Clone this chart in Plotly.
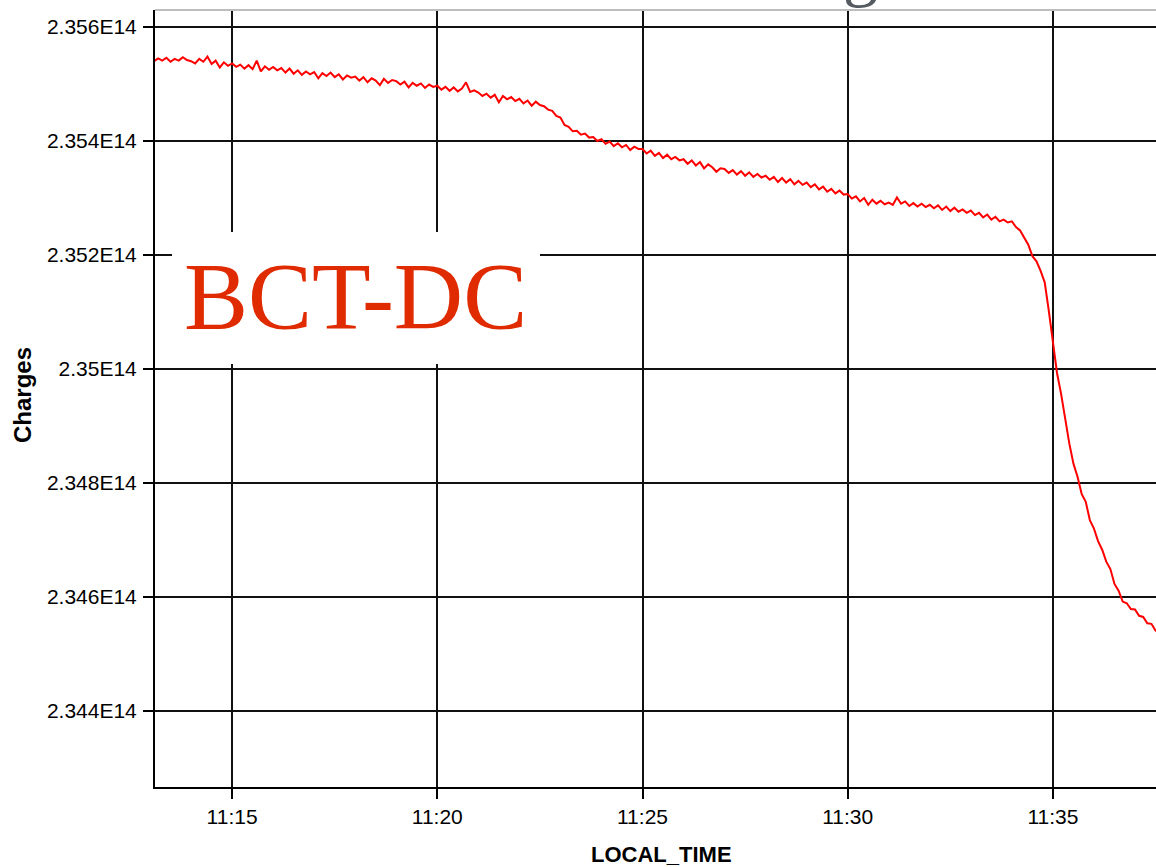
import pandas as pd
import plotly.graph_objects as go

# Beam charge (units of 1E14), one row per minute from 11:13, sampled every 6 s
charges_e14 = [
    2.35543, 2.35540, 2.35545, 2.35541, 2.35546, 2.35539, 2.35544, 2.35541, 2.35547, 2.35542,  # 11:13
    2.35540, 2.35536, 2.35544, 2.35539, 2.35548, 2.35535, 2.35541, 2.35529, 2.35538, 2.35532,  # 11:14
    2.35536, 2.35530, 2.35534, 2.35527, 2.35533, 2.35526, 2.35541, 2.35522, 2.35531, 2.35525,  # 11:15
    2.35530, 2.35524, 2.35528, 2.35520, 2.35527, 2.35518, 2.35524, 2.35516, 2.35522, 2.35517,  # 11:16
    2.35521, 2.35510, 2.35519, 2.35514, 2.35520, 2.35512, 2.35517, 2.35508, 2.35515, 2.35511,  # 11:17
    2.35513, 2.35506, 2.35512, 2.35503, 2.35510, 2.35506, 2.35498, 2.35509, 2.35502, 2.35507,  # 11:18
    2.35505, 2.35499, 2.35504, 2.35494, 2.35502, 2.35497, 2.35501, 2.35493, 2.35499, 2.35495,  # 11:19
    2.35497, 2.35490, 2.35495, 2.35488, 2.35494, 2.35487, 2.35492, 2.35503, 2.35486, 2.35489,  # 11:20
    2.35485, 2.35479, 2.35483, 2.35476, 2.35481, 2.35468, 2.35479, 2.35473, 2.35477, 2.35470,  # 11:21
    2.35474, 2.35466, 2.35471, 2.35462, 2.35469, 2.35463, 2.35461, 2.35455, 2.35453, 2.35444,  # 11:22
    2.35441, 2.35428, 2.35425, 2.35417, 2.35418, 2.35411, 2.35413, 2.35406, 2.35407, 2.35400,  # 11:23
    2.35403, 2.35395, 2.35399, 2.35391, 2.35396, 2.35389, 2.35393, 2.35384, 2.35390, 2.35386,  # 11:24
    2.35386, 2.35378, 2.35383, 2.35374, 2.35379, 2.35370, 2.35376, 2.35368, 2.35372, 2.35366,  # 11:25
    2.35368, 2.35360, 2.35366, 2.35357, 2.35363, 2.35352, 2.35359, 2.35354, 2.35346, 2.35352,  # 11:26
    2.35351, 2.35344, 2.35349, 2.35341, 2.35347, 2.35339, 2.35345, 2.35337, 2.35342, 2.35336,  # 11:27
    2.35339, 2.35332, 2.35337, 2.35328, 2.35335, 2.35327, 2.35333, 2.35324, 2.35330, 2.35323,  # 11:28
    2.35327, 2.35319, 2.35324, 2.35315, 2.35320, 2.35311, 2.35316, 2.35308, 2.35313, 2.35306,  # 11:29
    2.35307, 2.35299, 2.35303, 2.35294, 2.35300, 2.35288, 2.35297, 2.35290, 2.35295, 2.35289,  # 11:30
    2.35292, 2.35288, 2.35301, 2.35290, 2.35294, 2.35286, 2.35291, 2.35285, 2.35290, 2.35284,  # 11:31
    2.35288, 2.35282, 2.35287, 2.35279, 2.35285, 2.35277, 2.35283, 2.35276, 2.35280, 2.35274,  # 11:32
    2.35278, 2.35270, 2.35274, 2.35266, 2.35271, 2.35262, 2.35267, 2.35259, 2.35262, 2.35257,  # 11:33
    2.35259, 2.35249, 2.35243, 2.35231, 2.35218, 2.35198, 2.35189, 2.35172, 2.35152, 2.35102,  # 11:34
    2.35051, 2.34993, 2.34956, 2.34912, 2.34869, 2.34834, 2.34811, 2.34781, 2.34767, 2.34735,  # 11:35
    2.34720, 2.34698, 2.34683, 2.34662, 2.34649, 2.34623, 2.34611, 2.34592, 2.34589, 2.34579,  # 11:36
    2.34578, 2.34567, 2.34565, 2.34554, 2.34553, 2.34541, 2.34540,                             # 11:37
]
charges = [v * 1e14 for v in charges_e14]
times = pd.date_range("2012-01-01 11:13:00", periods=len(charges), freq="6s")

y_tick_values = [2.344e14, 2.346e14, 2.348e14, 2.350e14, 2.352e14, 2.354e14, 2.356e14]
y_tick_labels = ["2.344E14", "2.346E14", "2.348E14", "2.35E14", "2.352E14", "2.354E14", "2.356E14"]
x_tick_values = ["2012-01-01 11:15:00", "2012-01-01 11:20:00", "2012-01-01 11:25:00",
                 "2012-01-01 11:30:00", "2012-01-01 11:35:00"]
x_tick_labels = ["11:15", "11:20", "11:25", "11:30", "11:35"]

W, H = 1156, 867
L, R, T, B = 155, 0, 10, 80
pw, ph = W - L - R, H - T - B

def px_x(x):
    return (x - L) / pw

def px_y(y):
    return (H - B - y) / ph

fig = go.Figure()
fig.add_trace(go.Scatter(
    x=times, y=charges, mode="lines",
    line=dict(color="#ff0000", width=2),
    showlegend=False, hoverinfo="skip",
))

tick_font = dict(family="Liberation Sans, Arial, sans-serif", size=21, color="#000000")
fig.update_layout(
    width=W, height=H,
    margin=dict(l=L, r=R, t=T, b=B, pad=0),
    paper_bgcolor="white", plot_bgcolor="white",
    xaxis=dict(
        range=["2012-01-01 11:13:07.3", "2012-01-01 11:37:30.7"],
        tickvals=x_tick_values, ticktext=x_tick_labels,
        showgrid=True, gridcolor="#111111", gridwidth=2,
        showline=True, linecolor="#000000", linewidth=2,
        ticks="outside", ticklen=10, tickwidth=2, tickcolor="#000000",
        tickfont=tick_font, zeroline=False,
    ),
    yaxis=dict(
        range=[2.342667e14, 2.356298e14],
        tickvals=y_tick_values, ticktext=y_tick_labels,
        showgrid=True, gridcolor="#111111", gridwidth=2,
        showline=True, linecolor="#000000", linewidth=2,
        ticks="outside", ticklen=10, tickwidth=2, tickcolor="#000000",
        tickfont=tick_font, zeroline=False, ticklabelstandoff=2,
    ),
)

# top border (light gray)
fig.add_shape(type="line", xref="paper", yref="paper", x0=0, x1=1, y0=1, y1=1,
              line=dict(color="#bdbdbd", width=2), layer="above")

# white label box covering the grid
fig.add_shape(type="rect", xref="paper", yref="paper",
              x0=px_x(172), x1=px_x(540), y0=px_y(364), y1=px_y(232),
              fillcolor="white", line=dict(width=0), layer="above")
fig.add_annotation(text="BCT-DC", xref="paper", yref="paper",
                   x=px_x(355), y=px_y(296), xanchor="center", yanchor="middle",
                   showarrow=False,
                   font=dict(family="Liberation Serif, Times New Roman, serif", size=96, color="#e02a00"))

# axis titles
fig.add_annotation(text="<b>Charges</b>", xref="paper", yref="paper",
                   x=px_x(22), y=px_y(395), xanchor="center", yanchor="middle",
                   textangle=-90, showarrow=False,
                   font=dict(family="Liberation Sans, Arial, sans-serif", size=24, color="#000000"))
fig.add_annotation(text="<b>LOCAL_TIME</b>", xref="paper", yref="paper",
                   x=px_x(661), y=px_y(854), xanchor="center", yanchor="middle",
                   showarrow=False,
                   font=dict(family="Liberation Sans, Arial, sans-serif", size=22, color="#000000"))

# cut-off slide title glyph at the top edge
fig.add_annotation(text="g", xref="paper", yref="paper",
                   x=px_x(860), y=px_y(10), xanchor="center", yanchor="bottom",
                   showarrow=False,
                   font=dict(family="Liberation Serif, Times New Roman, serif", size=70, color="#555b61"))

fig.write_html("out.html", post_script="document.body.style.margin='0';",
               config={"displayModeBar": False})
